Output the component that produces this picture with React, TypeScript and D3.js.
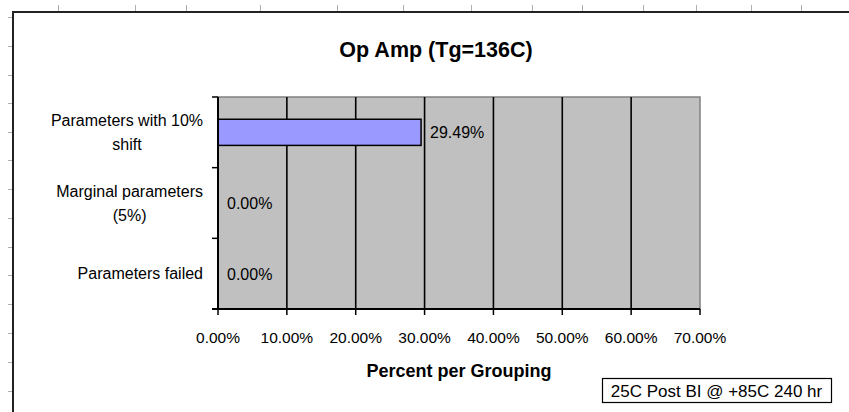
import React, { useEffect, useRef } from "react";
import * as d3 from "d3";

// ---- data ----
const title = "Op Amp (Tg=136C)";
const categories = ["Parameters with 10% shift", "Marginal parameters (5%)", "Parameters failed"];
const categoryLines = [["Parameters with 10%", "shift"], ["Marginal parameters", "(5%)"], ["Parameters failed"]];
const values = [0.2949, 0.0, 0.0];
const xTicks = [0, 0.1, 0.2, 0.3, 0.4, 0.5, 0.6, 0.7];
const xAxisTitle = "Percent per Grouping";
const seriesName = "25C Post BI @ +85C 240 hr";

// decorative spreadsheet cell ticks around the chart object
const sheetColTicks = [58, 135, 186, 260, 337, 403, 471, 532, 582, 643, 696, 751, 801];
const sheetRowTicks = [17, 46, 75, 103, 132, 160, 189, 218, 247, 275, 304, 333, 362, 391];

const W = 849;
const H = 412;
const FONT = "'Liberation Sans', Arial, sans-serif";

export default function App() {
  const ref = useRef<SVGSVGElement>(null);

  useEffect(() => {
    const svg = d3.select(ref.current);
    svg.selectAll("*").remove();

    const plot = { left: 218, right: 700, top: 97, bottom: 309 };
    const x = d3.scaleLinear().domain([0, 0.7]).range([plot.left, plot.right]);
    const y = d3.scaleBand<string>().domain(categories).range([plot.top, plot.bottom]).paddingInner(0).paddingOuter(0);
    const barFrac = 0.37;

    // background
    svg.append("rect").attr("x", 0).attr("y", 0).attr("width", W).attr("height", H).attr("fill", "#fff");

    // sheet ticks
    svg.append("g").selectAll("line").data(sheetColTicks).join("line")
      .attr("x1", (d) => d + 0.5).attr("x2", (d) => d + 0.5).attr("y1", 5).attr("y2", 11)
      .attr("stroke", "#b0b0b0").attr("stroke-width", 1);
    svg.append("g").selectAll("line").data(sheetRowTicks).join("line")
      .attr("y1", (d) => d + 0.5).attr("y2", (d) => d + 0.5).attr("x1", 8).attr("x2", 13)
      .attr("stroke", "#b0b0b0").attr("stroke-width", 1);

    // chart frame
    svg.append("rect").attr("x", 13).attr("y", 12).attr("width", W + 20).attr("height", H + 20)
      .attr("fill", "#fff").attr("stroke", "#222").attr("stroke-width", 2);

    // title
    svg.append("text").attr("x", 436).attr("y", 57).attr("text-anchor", "middle")
      .attr("font-family", FONT).attr("font-weight", "bold").attr("font-size", 21.5).attr("fill", "#000")
      .text(title);

    // plot area
    svg.append("rect").attr("x", plot.left).attr("y", plot.top)
      .attr("width", plot.right - plot.left).attr("height", plot.bottom - plot.top)
      .attr("fill", "#c0c0c0").attr("stroke", "#808080").attr("stroke-width", 1.5);

    // gridlines
    svg.append("g").selectAll("line").data(xTicks.slice(1, -1)).join("line")
      .attr("x1", (d) => x(d)).attr("x2", (d) => x(d)).attr("y1", plot.top).attr("y2", plot.bottom)
      .attr("stroke", "#000").attr("stroke-width", 1.6);

    // bars
    svg.append("g").selectAll("rect").data(categories).join("rect")
      .attr("x", x(0))
      .attr("y", (d) => (y(d) as number) + y.bandwidth() * (1 - barFrac) / 2)
      .attr("width", (d, i) => x(values[i]) - x(0))
      .attr("height", y.bandwidth() * barFrac)
      .attr("fill", "#9999ff").attr("stroke", "#000").attr("stroke-width", 1.5)
      .attr("display", (d, i) => (values[i] > 0 ? null : "none"));

    // axes
    svg.append("line").attr("x1", plot.left).attr("x2", plot.left).attr("y1", plot.top).attr("y2", plot.bottom)
      .attr("stroke", "#000").attr("stroke-width", 2);
    svg.append("line").attr("x1", plot.left - 6).attr("x2", plot.right).attr("y1", plot.bottom).attr("y2", plot.bottom)
      .attr("stroke", "#000").attr("stroke-width", 2);
    // category ticks
    const catBounds = [...categories.map((c) => y(c) as number)];
    svg.append("g").selectAll("line").data(catBounds).join("line")
      .attr("x1", plot.left - 6).attr("x2", plot.left).attr("y1", (d) => d).attr("y2", (d) => d)
      .attr("stroke", "#000").attr("stroke-width", 1.5);
    // x ticks
    svg.append("g").selectAll("line").data(xTicks).join("line")
      .attr("x1", (d) => x(d)).attr("x2", (d) => x(d)).attr("y1", plot.bottom).attr("y2", plot.bottom + 6)
      .attr("stroke", "#000").attr("stroke-width", 1.5);

    // x tick labels
    const fmt = d3.format(".2%");
    svg.append("g").selectAll("text").data(xTicks).join("text")
      .attr("x", (d) => x(d)).attr("y", 343).attr("text-anchor", "middle")
      .attr("font-family", FONT).attr("font-size", 15.5).attr("fill", "#000")
      .text((d) => fmt(d));

    // category labels (wrapped, centred on widest line, right-aligned block)
    const labelRight = 203;
    const lineGap = 24;
    categories.forEach((c, i) => {
      const lines = categoryLines[i];
      const cy = (y(c) as number) + y.bandwidth() / 2;
      const g = svg.append("g");
      const texts = lines.map((ln, j) =>
        g.append("text")
          .attr("y", cy + 5.5 + (j - (lines.length - 1) / 2) * lineGap)
          .attr("text-anchor", "middle")
          .attr("font-family", FONT).attr("font-size", 16).attr("fill", "#000")
          .text(ln)
      );
      const maxW = d3.max(texts, (t) => (t.node() as SVGTextElement).getComputedTextLength()) || 0;
      texts.forEach((t) => t.attr("x", labelRight - maxW / 2));
    });

    // data labels
    svg.append("g").selectAll("text").data(categories).join("text")
      .attr("x", (d, i) => x(values[i]) + 9)
      .attr("y", (d) => (y(d) as number) + y.bandwidth() / 2 + 6)
      .attr("font-family", FONT).attr("font-size", 16).attr("fill", "#000")
      .text((d, i) => fmt(values[i]));

    // axis title
    svg.append("text").attr("x", (plot.left + plot.right) / 2).attr("y", 377).attr("text-anchor", "middle")
      .attr("font-family", FONT).attr("font-weight", "bold").attr("font-size", 18).attr("fill", "#000")
      .text(xAxisTitle);

    // legend
    const lg = svg.append("g");
    lg.append("rect").attr("x", 602.5).attr("y", 378.5).attr("width", 229).attr("height", 24)
      .attr("fill", "#fff").attr("stroke", "#000").attr("stroke-width", 1.2);
    lg.append("text").attr("x", 716.5).attr("y", 397).attr("text-anchor", "middle")
      .attr("font-family", FONT).attr("font-size", 17).attr("fill", "#000")
      .text(seriesName);
  }, []);

  return (
    <svg ref={ref} width={W} height={H} style={{ position: "absolute", left: 0, top: 0, display: "block" }} />
  );
}
